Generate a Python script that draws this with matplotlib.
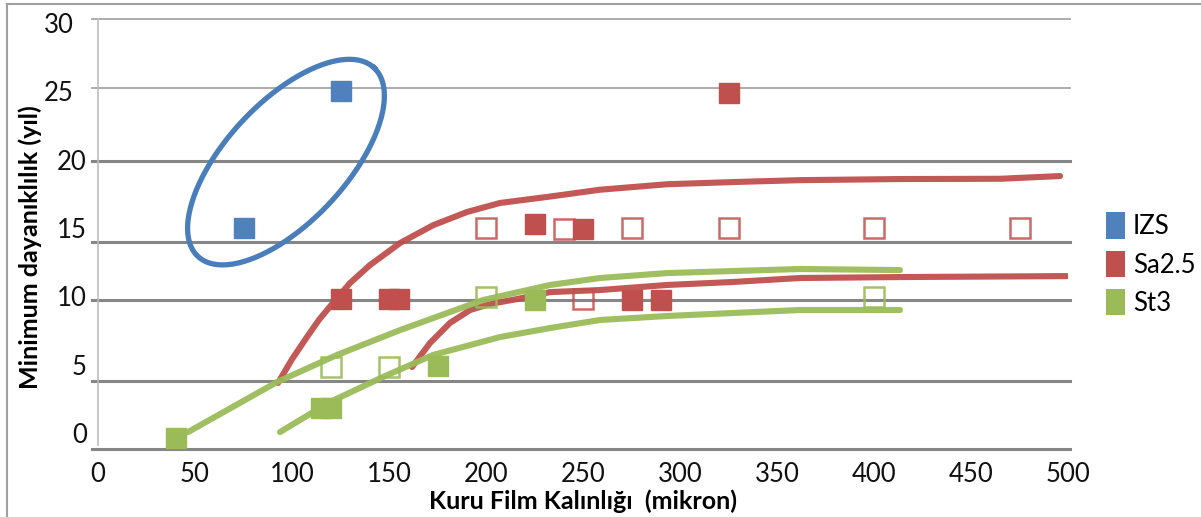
import numpy as np
import matplotlib
matplotlib.use("Agg")
import matplotlib.pyplot as plt
import matplotlib.patches as mpatches
from matplotlib.lines import Line2D
from matplotlib.transforms import ScaledTranslation

plt.rcParams['font.family'] = ['Lato', 'DejaVu Sans']

# --- data ---
izs_fill_x = [75, 125]
izs_fill_y = [15.0, 25.0]

sa_fill_x = [125, 150, 155, 225, 250, 275, 290, 325]
sa_fill_y = [9.8, 9.8, 9.8, 15.3, 14.9, 9.7, 9.7, 24.9]
sa_open_x = [200, 240, 250, 275, 325, 400, 475]
sa_open_y = [15.0, 14.9, 9.8, 15.0, 15.0, 15.0, 15.0]

st_fill_x = [40, 115, 120, 175, 225]
st_fill_y = [-0.4, 1.8, 1.8, 4.9, 9.7]
st_open_x = [120, 150, 200, 400]
st_open_y = [4.8, 4.8, 9.95, 9.95]

# hand-drawn trend curves
red_up_x = [92.8, 100.0, 107.7, 114.0, 121.1, 129.9, 140.2, 155.7, 172.7, 190.2, 207.2, 233.0,
            258.8, 293.3, 327.3, 361.9, 413.4, 465.0, 495.9]
red_up_y = [3.66, 5.4, 7.02, 8.3, 9.51, 10.97, 12.29, 13.9, 15.2, 16.17, 16.83, 17.3,
            17.8, 18.2, 18.36, 18.5, 18.58, 18.6, 18.8]
red_lo_x = [161.9, 171.1, 181.4, 191.8, 202.1, 216.0, 233.0, 258.8, 293.3, 327.3,
            361.9, 413.4, 499.5]
red_lo_y = [4.83, 6.58, 8.05, 9.0, 9.44, 9.8, 10.31, 10.46, 10.83, 11.05,
            11.34, 11.41, 11.48]
grn_up_x = [46.4, 92.3, 123.2, 155.7, 198.5, 233.0, 258.8, 293.3, 327.3, 361.9, 413.4]
grn_up_y = [0.07, 3.73, 5.71, 7.53, 9.73, 10.83, 11.34, 11.7, 11.85, 12.0, 11.92]
grn_lo_x = [93.8, 119.6, 146.9, 172.7, 207.2, 233.0, 258.8, 293.3, 327.3, 361.9, 413.4]
grn_lo_y = [0.07, 2.27, 4.1, 5.71, 7.02, 7.68, 8.27, 8.56, 8.78, 9.0, 9.0]

y_ticks = [0, 5, 10, 15, 20, 25, 30]
x_ticks = [0, 50, 100, 150, 200, 250, 300, 350, 400, 450, 500]

BLUE, RED, GREEN = "#4F81BD", "#C0504D", "#9BBB59"
GRID = "#868686"

fig = plt.figure(figsize=(12.01, 5.17), dpi=100)
ax = fig.add_axes([98/1201, 68/517, 970/1201, 430/517])
ax.set_xlim(0, 500)
ax.set_ylim(-1.17, 30.29)
for s in ax.spines.values():
    s.set_visible(False)

# odd, uneven gridlines of the original
grid_y = [(30.29, "#a6a6a6", 1.3), (25.24, "#a6a6a6", 1.3), (19.9, GRID, 2.2),
          (13.97, GRID, 2.2), (9.73, GRID, 2.2), (3.8, GRID, 2.2), (-1.17, GRID, 2.2)]
for gy, gc, lw in grid_y:
    ax.axhline(gy, xmin=-0.006, xmax=1.002, color=gc, lw=lw, clip_on=False, zorder=1)
ax.plot([0, 0], [-0.9, 30.29], color="#bdbdbd", lw=1.2, zorder=1, clip_on=False)

# trend curves
kw = dict(lw=4.4, solid_capstyle="round", solid_joinstyle="round", zorder=3, alpha=0.95)
ax.plot(red_up_x, red_up_y, color=RED, **kw)
ax.plot(red_lo_x, red_lo_y, color=RED, **kw)
ax.plot(grn_up_x, grn_up_y, color=GREEN, **kw)
ax.plot(grn_lo_x, grn_lo_y, color=GREEN, **kw)

# circled IZS group
t = np.linspace(0, 2*np.pi, 300)
cx, cy, ux, uy, vx, vy = 96.9, 19.82, 45.4, 6.9, -22.6, 2.99
ax.plot(cx + ux*np.cos(t) + vx*np.sin(t), cy + uy*np.cos(t) + vy*np.sin(t),
        color="#4A7EBB", lw=3.8, zorder=3)

# markers
mk = dict(ls="none", marker="s", ms=14.5, zorder=4)
ax.plot(izs_fill_x, izs_fill_y, color=BLUE, **mk)
ax.plot(sa_fill_x, sa_fill_y, color=RED, **mk)
ax.plot(sa_open_x, sa_open_y, mfc="none", mec=RED, mew=1.8, alpha=0.85, **mk)
ax.plot(st_fill_x, st_fill_y, color=GREEN, **mk)
ax.plot(st_open_x, st_open_y, mfc="none", mec=GREEN, mew=1.8, alpha=0.9, **mk)

# ticks
ax.set_xticks(x_ticks, [str(v) for v in x_ticks])
ax.set_yticks(y_ticks, [str(v) for v in y_ticks])
ax.tick_params(axis="both", length=0, labelsize=18.5, colors="#111111")
ax.tick_params(axis="x", pad=9)
ax.tick_params(axis="y", pad=8)
for lbl in ax.get_yticklabels()[-2:]:
    lbl.set_transform(lbl.get_transform() + ScaledTranslation(-0.13, 0, fig.dpi_scale_trans))

ax.set_xlabel("Kuru Film Kalınlığı  (mikron)", fontsize=18, fontweight="bold", labelpad=2)
ax.set_ylabel("Minimum dayanıklılık (yıl)", fontsize=18, fontweight="bold")
ax.yaxis.set_label_coords(-0.058, 0.47)

handles = [mpatches.Patch(facecolor=c, edgecolor="none") for c in (BLUE, RED, GREEN)]
ax.legend(handles, ["IZS", "Sa2.5", "St3"], loc="center left",
          bbox_to_anchor=(1.026, 0.43), frameon=False, fontsize=18.5,
          handlelength=0.75, handleheight=1.2, handletextpad=0.3,
          labelspacing=0.45, borderpad=0)

# outer chart frame
fig.add_artist(Line2D([7/1201, 7/1201], [0, 1 - 4/517], color="#a0a0a0", lw=1.5))
fig.add_artist(Line2D([7/1201, 1], [1 - 4/517, 1 - 4/517], color="#a0a0a0", lw=1.5))

fig.savefig("out.png", dpi=100)
